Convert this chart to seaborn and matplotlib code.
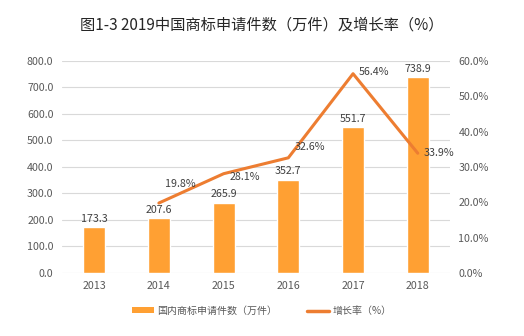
import matplotlib
matplotlib.use("Agg")
import matplotlib.pyplot as plt
import seaborn as sns
import pandas as pd
from matplotlib.patches import Patch
from matplotlib.lines import Line2D

years = ["2013", "2014", "2015", "2016", "2017", "2018"]
apps = [173.3, 207.6, 265.9, 352.7, 551.7, 738.9]
growth_years = ["2014", "2015", "2016", "2017", "2018"]
growth = [19.8, 28.1, 32.6, 56.4, 33.9]
left_ticks = [0, 100, 200, 300, 400, 500, 600, 700, 800]
right_ticks = [0, 10, 20, 30, 40, 50, 60]

sns.set_style("white")
plt.rcParams['font.family'] = ['Noto Sans CJK SC', 'DejaVu Sans']

bar_color = "#FFA033"
line_color = "#ED7D31"
txt = "#595959"

fig = plt.figure(figsize=(5.24, 3.36), dpi=100)
ax = fig.add_axes([0.118, 0.1875, 0.741, 0.631])

df = pd.DataFrame({"year": years, "apps": apps})
sns.barplot(data=df, x="year", y="apps", color=bar_color, width=0.34, ax=ax, saturation=1)
ax.set_ylim(0, 800)
ax.set_xlim(-0.5, len(years) - 0.5)
ax.set_yticks(left_ticks)
ax.set_yticklabels([f"{v:.1f}" for v in left_ticks])
ax.yaxis.grid(True, color="#D9D9D9", lw=0.8)
ax.set_axisbelow(True)
ax.set_xlabel("")
ax.set_ylabel("")
for s in ax.spines.values():
    s.set_visible(False)
ax.tick_params(axis="both", length=0, labelsize=7.7, colors=txt, pad=6)
for i, v in enumerate(apps):
    ax.text(i, v + 12, f"{v:.1f}", ha="center", va="bottom", fontsize=7.7, color="#404040")

ax2 = ax.twinx()
gpos = [years.index(y) for y in growth_years]
gdf = pd.DataFrame({"pos": gpos, "growth": growth})
sns.lineplot(data=gdf, x="pos", y="growth", color=line_color, lw=2.2, ax=ax2)
ax2.set_ylim(0, 60)
ax2.set_xlim(-0.5, len(years) - 0.5)
ax2.set_yticks(right_ticks)
ax2.set_yticklabels([f"{v:.1f}%" for v in right_ticks])
ax2.set_ylabel("")
ax2.set_xlabel("")
for s in ax2.spines.values():
    s.set_visible(False)
ax2.tick_params(axis="both", length=0, labelsize=7.7, colors=txt, pad=6)
label_dy = [5.5, -0.9, 3.0, 0.5, 0.0]
for p, g, dy in zip(gpos, growth, label_dy):
    ax2.text(p + 0.09, g + dy, f"{g:.1f}%", ha="left", va="center", fontsize=7.7, color="#404040")

fig.suptitle("图1-3 2019中国商标申请件数（万件）及增长率（%）", y=0.95, fontsize=11, color="#262626")

handles = [Patch(facecolor=bar_color, edgecolor="none"),
           Line2D([0], [0], color=line_color, lw=2.5)]
labels = ["国内商标申请件数（万件）", "增长率（%）"]
fig.legend(handles, labels, loc="center", bbox_to_anchor=(0.5, 0.075), ncol=2, frameon=False,
           fontsize=7.2, labelcolor=txt, handlelength=2.2, handleheight=0.5, columnspacing=3, handletextpad=0.3)

fig.savefig("out.png", dpi=100)
